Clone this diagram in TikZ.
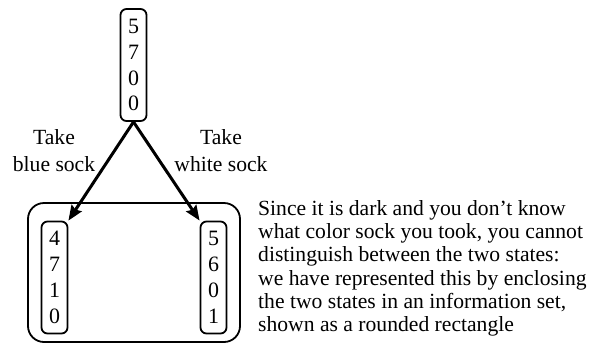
\documentclass[tikz,border=0pt]{standalone}
\usepackage{fontspec}
\setmainfont{Liberation Serif}
\usetikzlibrary{arrows.meta}
\begin{document}
\begin{tikzpicture}[x=1bp,y=-1bp,
  state/.style={draw,line width=1.8bp,rounded corners=6bp,inner sep=0pt,
    minimum width=26bp,minimum height=112bp,align=center,
    font=\fontsize{22}{26}\selectfont},
  infoset/.style={draw,line width=1.8bp,rounded corners=16bp,inner sep=0pt,
    minimum width=212bp,minimum height=139bp},
  move/.style={line width=3bp,-{Stealth[length=15bp,width=12bp,inset=2bp]}},
  lbl/.style={align=center,inner sep=0pt,font=\fontsize{21.7}{27}\selectfont},
  note/.style={align=left,inner sep=0pt,anchor=north west,font=\fontsize{21.7}{23.4}\selectfont}]
\useasboundingbox (0,0) rectangle (595,351);
\node[infoset] (set) at (134,272.5) {};
\node[state] (root) at (133.5,65) {5\\7\\0\\0};
\node[state] (blue) at (54.5,277.5) {4\\7\\1\\0};
\node[state] (white) at (213.5,277.5) {5\\6\\0\\1};
\draw[move] (root.south) -- (blue.north east);
\draw[move] (root.south) -- (white.north west);
\node[lbl] (lb) at (54,151) {Take\\blue sock};
\node[lbl] (lw) at (221,151) {Take\\white sock};
\node[note] (txt) at (258,200) {Since it is dark and you don’t know\\what color sock you took, you cannot\\distinguish between the two states:\\we have represented this by enclosing\\the two states in an information set,\\shown as a rounded rectangle};
\end{tikzpicture}
\end{document}
